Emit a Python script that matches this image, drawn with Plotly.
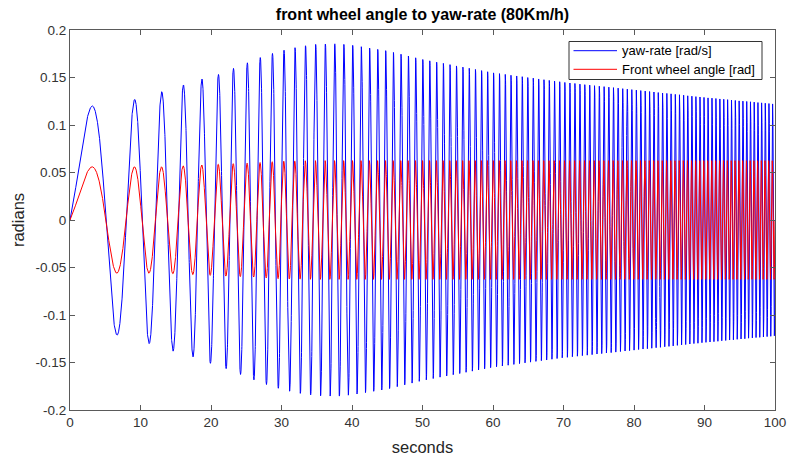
import numpy as np
import plotly.graph_objects as go

# ---- values ----
# sweep (chirp) of the steering input, read from peak spacing
sweep_start_hz = 0.05
sweep_end_hz = 1.95
duration_s = 100.0
sample_dt = 0.01

# envelope (peak amplitude) of the yaw-rate trace, read at several times
yaw_env_t = [0, 3.1, 6.6, 9.2, 11.2, 13, 14.6, 16, 17.4, 18.5, 21, 23, 25, 27, 29, 31, 33, 35, 38, 40, 45, 50, 55, 60, 70, 80, 90, 100]
yaw_env_a = [0.118, 0.120, 0.121, 0.127, 0.130, 0.135, 0.138, 0.142, 0.144, 0.148, 0.153, 0.159, 0.165, 0.171, 0.176, 0.180, 0.183, 0.185, 0.1855, 0.184, 0.178, 0.169, 0.162, 0.155, 0.145, 0.137, 0.129, 0.122]
# phase lag of yaw-rate behind the steering angle (deg)
yaw_lag_t = [0, 20, 50, 100]
yaw_lag_deg = [0, 5, 15, 30]

# envelope of the front-wheel-angle trace
steer_env_t = [0, 3, 9, 13, 16, 19, 22, 26, 30, 35, 100]
steer_env_a = [0.055, 0.056, 0.056, 0.056, 0.057, 0.058, 0.059, 0.060, 0.062, 0.0625, 0.0625]

series_names = ["yaw-rate [rad/s]", "Front wheel angle [rad]"]
series_colors = ["#0000FF", "#FF0000"]

x_ticks = [0, 10, 20, 30, 40, 50, 60, 70, 80, 90, 100]
y_ticks = [-0.2, -0.15, -0.1, -0.05, 0, 0.05, 0.1, 0.15, 0.2]
y_tick_text = ["-0.2", "-0.15", "-0.1", "-0.05", "0", "0.05", "0.1", "0.15", "0.2"]

# ---- build traces ----
t = np.arange(0, duration_s + sample_dt / 2, sample_dt)
k = (sweep_end_hz - sweep_start_hz) / duration_s
phase = 2 * np.pi * (sweep_start_hz * t + 0.5 * k * t ** 2)
lag = np.deg2rad(np.interp(t, yaw_lag_t, yaw_lag_deg))
yaw = np.interp(t, yaw_env_t, yaw_env_a) * np.sin(phase - lag)
steer = np.interp(t, steer_env_t, steer_env_a) * np.sin(phase)

fig = go.Figure()
fig.add_trace(go.Scatter(x=t, y=yaw, mode="lines", name=series_names[0],
                         line=dict(color=series_colors[0], width=1), showlegend=False))
fig.add_trace(go.Scatter(x=t, y=steer, mode="lines", name=series_names[1],
                         line=dict(color=series_colors[1], width=1), showlegend=False))

axis_color = "#5a5a5a"
font_family = "Liberation Sans, Arial, Helvetica, sans-serif"

# plot-area pixel geometry: x 70..775, y 30..410
PL, PR, PT, PB = 70, 775, 30, 410
def px_x(px):
    return (px - PL) / (PR - PL)
def px_y(py):
    return (PB - py) / (PB - PT)

shapes = [dict(type="rect", xref="paper", yref="paper",
               x0=px_x(569), x1=px_x(762), y0=px_y(79.5), y1=px_y(41.5),
               fillcolor="white", line=dict(color="#333333", width=1), layer="above")]
annotations = []
for i, (nm, col) in enumerate(zip(series_names, series_colors)):
    yy = [50.7, 69.3][i]
    shapes.append(dict(type="line", xref="paper", yref="paper",
                       x0=px_x(573.5), x1=px_x(617), y0=px_y(yy), y1=px_y(yy),
                       line=dict(color=col, width=1), layer="above"))
    annotations.append(dict(text=nm, xref="paper", yref="paper", x=px_x(620), y=px_y(yy),
                            xanchor="left", yanchor="middle", showarrow=False,
                            font=dict(size=13, color="#000000", family=font_family)))

fig.update_layout(
    width=787, height=459,
    margin=dict(l=PL, r=787 - PR, t=PT, b=459 - PB),
    paper_bgcolor="white", plot_bgcolor="white",
    font=dict(family=font_family, size=13, color="#262626"),
    title=dict(text="<b>front wheel angle to yaw-rate (80Km/h)</b>",
               x=(PL + (PR - PL) / 2) / 787, xanchor="center", y=1 - 14 / 459, yanchor="middle",
               font=dict(size=16, color="#000000")),
    showlegend=False,
    shapes=shapes,
    annotations=annotations,
)
fig.update_xaxes(range=[0, 100], tickvals=x_ticks, ticktext=[str(v) for v in x_ticks],
                 automargin=False,
                 showgrid=False, zeroline=False, showline=True, linecolor=axis_color,
                 linewidth=1, mirror="ticks", ticks="inside", ticklen=5, tickcolor=axis_color,
                 title=dict(text="seconds", font=dict(size=16.5, color="#262626"), standoff=12),
                 tickfont=dict(size=13.5, color="#333333"))
fig.update_yaxes(range=[-0.2, 0.2], tickvals=y_ticks, ticktext=y_tick_text,
                 automargin=False,
                 showgrid=False, zeroline=False, showline=True, linecolor=axis_color,
                 linewidth=1, mirror="ticks", ticks="inside", ticklen=5, tickcolor=axis_color,
                 title=dict(text="radians", font=dict(size=16.5, color="#262626"), standoff=6),
                 tickfont=dict(size=13.5, color="#333333"))

fig.write_html("out.html")
